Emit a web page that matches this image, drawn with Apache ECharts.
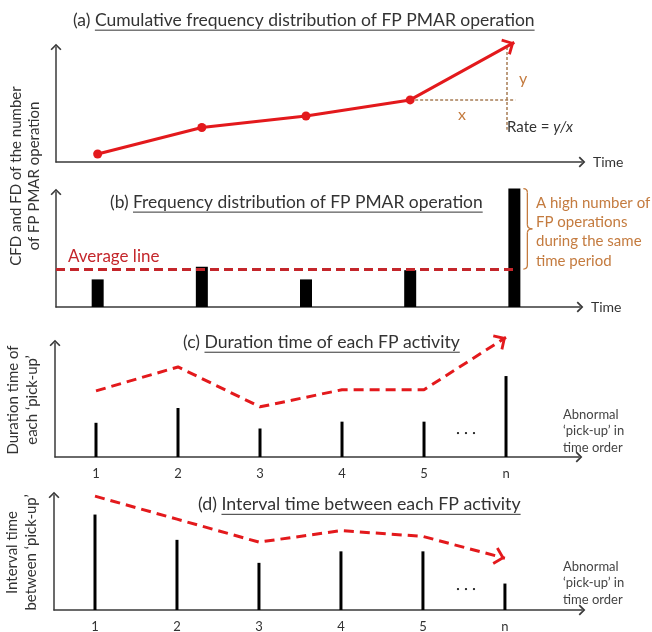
<!DOCTYPE html>
<html><head><meta charset="utf-8">
<script src="https://cdn.jsdelivr.net/npm/echarts@6/dist/echarts.min.js"></script>
<style>html,body{margin:0;padding:0;background:#fff}#c{width:652px;height:632px}</style>
</head><body><div id="c"></div>
<script>
// ---- Panel (a): cumulative frequency distribution ----
const cfdTime = [1, 2, 3, 4, 5];
const cfdValues = [0.7, 3.0, 4.0, 5.4, 10.4];
// ---- Panel (b): frequency distribution ----
const fdTime = [1, 2, 3, 4, 5];
const fdValues = [2.4, 3.5, 2.4, 3.2, 10.3];
const fdAverage = 3.3;
// ---- Panels (c) and (d): abnormal pick-ups in time order ----
const pickupLabels = ['1', '2', '3', '4', '5', 'n'];
const pickupIndex = [1, 2, 3, 4, 5, 6];
const durationBars = [3.0, 4.3, 2.5, 3.1, 3.1, 7.1];
const durationTrend = [5.8, 7.9, 4.4, 5.9, 5.9, 10.5];
const intervalBars = [8.3, 6.1, 4.1, 5.1, 5.1, 2.3];
const intervalTrend = [9.9, 7.9, 5.9, 6.9, 6.4, 4.5];

const FONT = 'Lato, "Open Sans", sans-serif';
const RED = '#e3191c';
const DARKRED = '#c4262b';
const BROWN = '#c47b3f';
const BROWNLINE = '#a87d55';
const AXIS = '#3a3a3a';
const TXT = '#333333';
const CHEV = 'path://M0,9 L9,0 L18,9 L16,11 L9,4 L2,11 Z';

const zip = (xs, ys) => xs.map((x, i) => [x, ys[i]]);

function axisLineCfg() {
  return { show: true, lineStyle: { color: AXIS, width: 1.5 }, symbol: ['none', CHEV], symbolSize: [11, 7] };
}
function xAxisCfg(idx, min, max, withLabels, name) {
  return {
    type: 'value', gridIndex: idx, min: min, max: max,
    splitLine: { show: false }, axisTick: { show: false },
    axisLine: axisLineCfg(),
    name: name || '', nameLocation: 'end', nameGap: 11,
    nameTextStyle: { color: TXT, fontSize: 14, fontFamily: FONT },
    axisLabel: withLabels ? {
      show: true, customValues: pickupIndex, color: TXT, fontSize: 13, fontFamily: FONT, margin: 10,
      formatter: v => pickupLabels[pickupIndex.indexOf(Math.round(v))]
    } : { show: false }
  };
}
function yAxisCfg(idx, name) {
  return {
    type: 'value', gridIndex: idx, min: 0, max: 10,
    splitLine: { show: false }, axisTick: { show: false }, axisLabel: { show: false },
    axisLine: axisLineCfg(),
    name: name || '', nameLocation: 'middle', nameRotate: 90, nameGap: 13,
    nameTextStyle: { color: TXT, fontSize: 15, fontFamily: FONT, lineHeight: 19 }
  };
}

const chart = echarts.init(document.getElementById('c'), null, { renderer: 'canvas' });

const option = {
  animation: false,
  backgroundColor: '#fff',
  grid: [
    { left: 56, top: 47, width: 526, height: 115, outerBoundsMode: 'none', containLabel: false },
    { left: 56, top: 192, width: 524, height: 115, outerBoundsMode: 'none', containLabel: false },
    { left: 55, top: 343, width: 524, height: 114, outerBoundsMode: 'none', containLabel: false },
    { left: 54, top: 495, width: 528, height: 115, outerBoundsMode: 'none', containLabel: false }
  ],
  xAxis: [
    xAxisCfg(0, 0.6, 5.65, false, 'Time'),
    xAxisCfg(1, 0.6, 5.63, false, 'Time'),
    xAxisCfg(2, 0.5, 6.89, true),
    xAxisCfg(3, 0.5, 6.94, true)
  ],
  yAxis: [
    yAxisCfg(0),
    yAxisCfg(1),
    yAxisCfg(2, 'Duration time of\neach \u2018pick-up\u2019'),
    yAxisCfg(3, 'Interval time\nbetween \u2018pick-up\u2019')
  ],
  series: [
    {
      id: 'cfd', type: 'line', xAxisIndex: 0, yAxisIndex: 0, clip: false, z: 5,
      data: zip(cfdTime, cfdValues),
      symbol: 'circle', symbolSize: 9, showSymbol: true,
      lineStyle: { color: RED, width: 3 }, itemStyle: { color: RED },
      markLine: {
        silent: true, animation: false, label: { show: false },
        symbol: ['none', 'none'],
        lineStyle: { color: BROWNLINE, width: 1.5, type: [3, 2] },
        data: [
          [{ coord: [cfdTime[3], cfdValues[3]] }, { coord: [cfdTime[4] + 0.01, cfdValues[3]] }],
          [{ coord: [cfdTime[4] - 0.07, 10] }, { coord: [cfdTime[4] - 0.07, 2.8] }]
        ]
      }
    },
    {
      type: 'bar', xAxisIndex: 1, yAxisIndex: 1, clip: false, barWidth: 12,
      data: zip(fdTime, fdValues), itemStyle: { color: '#000' },
      markLine: {
        silent: true, animation: false, symbol: ['none', 'none'], z: 10,
        lineStyle: { color: DARKRED, width: 3, type: [9, 5] },
        label: { show: true, position: 'insideStartTop', formatter: 'Average line', color: DARKRED, fontSize: 17, fontFamily: FONT, distance: [12, 4] },
        data: [[{ coord: [0.6, fdAverage] }, { coord: [fdTime[4], fdAverage] }]]
      }
    },
    {
      type: 'bar', xAxisIndex: 2, yAxisIndex: 2, clip: false, barWidth: 3,
      data: zip(pickupIndex, durationBars), itemStyle: { color: '#000' }
    },
    {
      id: 'dur', type: 'line', xAxisIndex: 2, yAxisIndex: 2, clip: false, symbol: 'none', z: 5,
      data: zip(pickupIndex, durationTrend),
      lineStyle: { color: RED, width: 3, type: [10, 6] }, itemStyle: { color: RED }
    },
    {
      type: 'bar', xAxisIndex: 3, yAxisIndex: 3, clip: false, barWidth: 3,
      data: zip(pickupIndex, intervalBars), itemStyle: { color: '#000' }
    },
    {
      id: 'int', type: 'line', xAxisIndex: 3, yAxisIndex: 3, clip: false, symbol: 'none', z: 5,
      data: zip(pickupIndex, intervalTrend),
      lineStyle: { color: RED, width: 3, type: [10, 6] }, itemStyle: { color: RED }
    }
  ]
};
chart.setOption(option);

// arrow head on the last point of a trend line, oriented along the last segment
function arrowItem(axisIdx, prev, tip) {
  const p0 = chart.convertToPixel({ xAxisIndex: axisIdx, yAxisIndex: axisIdx }, prev);
  const p1 = chart.convertToPixel({ xAxisIndex: axisIdx, yAxisIndex: axisIdx }, tip);
  let dx = p1[0] - p0[0], dy = p1[1] - p0[1];
  const L = Math.hypot(dx, dy); dx /= L; dy /= L;
  const h = 11;
  return {
    value: tip, symbol: CHEV, symbolSize: [18, h],
    symbolRotate: Math.atan2(-dx, -dy) * 180 / Math.PI,
    symbolOffset: [-dx * h / 2, -dy * h / 2],
    itemStyle: { color: RED }
  };
}
function withArrow(axisIdx, xs, ys, normalSymbol) {
  const pts = zip(xs, ys);
  return pts.map((p, i) => i < pts.length - 1
    ? { value: p, symbol: normalSymbol, symbolSize: 9 }
    : arrowItem(axisIdx, pts[i - 1], p));
}
chart.setOption({
  series: [
    { id: 'cfd', data: withArrow(0, cfdTime, cfdValues, 'circle') },
    { id: 'dur', showSymbol: true, data: withArrow(2, pickupIndex, durationTrend, 'none') },
    { id: 'int', showSymbol: true, data: withArrow(3, pickupIndex, intervalTrend, 'none') }
  ]
});

// ---- annotations (text, titles, brace) ----
const mctx = document.createElement('canvas').getContext('2d');
function textW(t, size, style) { mctx.font = (style || '') + ' ' + size + 'px ' + FONT; return mctx.measureText(t).width; }

const titles = [
  { pre: '(a) ', main: 'Cumulative frequency distribution of FP PMAR operation', x: 73, y: 20, w: 462 },
  { pre: '(b) ', main: 'Frequency distribution of FP PMAR operation', x: 110, y: 202, w: 373 },
  { pre: '(c) ', main: 'Duration time of each FP activity', x: 183, y: 342, w: 277 },
  { pre: '(d) ', main: 'Interval time between each FP activity', x: 198, y: 504, w: 323 }
];
const g = [];
titles.forEach((t) => {
  const size = 16 * t.w / textW(t.pre + t.main, 16);
  const w1 = textW(t.pre, size), w2 = textW(t.main, size);
  g.push({ type: 'text', x: t.x, y: t.y, style: { text: t.pre, fontSize: size, fontFamily: FONT, fill: TXT, verticalAlign: 'middle' } });
  g.push({ type: 'text', x: t.x + w1, y: t.y, style: { text: t.main, fontSize: size, fontFamily: FONT, fill: TXT, verticalAlign: 'middle' } });
  g.push({ type: 'line', shape: { x1: t.x + w1, y1: t.y + size * 0.58, x2: t.x + w1 + w2, y2: t.y + size * 0.58 }, style: { stroke: TXT, lineWidth: 1 } });
});

// shared y label for (a) and (b)
g.push({ type: 'text', x: 25, y: 176, rotation: Math.PI / 2,
  style: { text: 'CFD and FD of the number\nof FP PMAR operation', fontSize: 15, lineHeight: 18, fontFamily: FONT, fill: TXT, align: 'center', verticalAlign: 'middle' } });

// rate annotation
g.push({ type: 'text', x: 523, y: 79, style: { text: 'y', fontSize: 16, fontFamily: FONT, fill: BROWN, align: 'center', verticalAlign: 'middle' } });
g.push({ type: 'text', x: 462, y: 115, style: { text: 'x', fontSize: 16, fontFamily: FONT, fill: BROWN, align: 'center', verticalAlign: 'middle' } });
g.push({ type: 'text', x: 507, y: 127, style: { text: 'Rate = {i|y/x}', fontSize: 15, fontFamily: FONT, fill: TXT, verticalAlign: 'middle',
  rich: { i: { fontStyle: 'italic', fontSize: 15, fontFamily: FONT, fill: TXT } } } });

// brace tied to bar 5 and average line
const pTop = chart.convertToPixel({ xAxisIndex: 1, yAxisIndex: 1 }, [fdTime[4], fdValues[4]]);
const pBot = chart.convertToPixel({ xAxisIndex: 1, yAxisIndex: 1 }, [fdTime[4], fdAverage]);
const bx = pTop[0] + 9, bt = pTop[1], bb = pBot[1], bm = (bt + bb) / 2;
const bs = { stroke: BROWN, lineWidth: 1.3, fill: null };
g.push({ type: 'bezierCurve', shape: { x1: bx, y1: bt, cpx1: bx + 4, cpy1: bt, x2: bx + 4, y2: bt + 4 }, style: bs });
g.push({ type: 'line', shape: { x1: bx + 4, y1: bt + 4, x2: bx + 4, y2: bm - 4 }, style: bs });
g.push({ type: 'bezierCurve', shape: { x1: bx + 4, y1: bm - 4, cpx1: bx + 4, cpy1: bm, x2: bx + 9, y2: bm }, style: bs });
g.push({ type: 'bezierCurve', shape: { x1: bx + 9, y1: bm, cpx1: bx + 4, cpy1: bm, x2: bx + 4, y2: bm + 4 }, style: bs });
g.push({ type: 'line', shape: { x1: bx + 4, y1: bm + 4, x2: bx + 4, y2: bb - 4 }, style: bs });
g.push({ type: 'bezierCurve', shape: { x1: bx + 4, y1: bb - 4, cpx1: bx + 4, cpy1: bb, x2: bx, y2: bb }, style: bs });
g.push({ type: 'text', x: 536, y: 232, style: { text: 'A high number of\nFP operations\nduring the same\ntime period', fontSize: 15, lineHeight: 19.3, fontFamily: FONT, fill: BROWN, verticalAlign: 'middle' } });

// ellipsis and x-axis captions for (c) and (d)
[[466, 433], [466, 589]].forEach(p => g.push({ type: 'text', x: p[0], y: p[1], style: { text: '\u2022   \u2022   \u2022', fontSize: 6, fontFamily: FONT, fill: '#222', align: 'center', verticalAlign: 'middle' } }));
[[563, 431], [563, 583]].forEach(p => g.push({ type: 'text', x: p[0], y: p[1], style: { text: 'Abnormal\n\u2018pick-up\u2019 in\ntime order', fontSize: 13, lineHeight: 16.5, fontFamily: FONT, fill: '#444', verticalAlign: 'middle' } }));

chart.setOption({ graphic: { elements: g } });
</script></body></html>
